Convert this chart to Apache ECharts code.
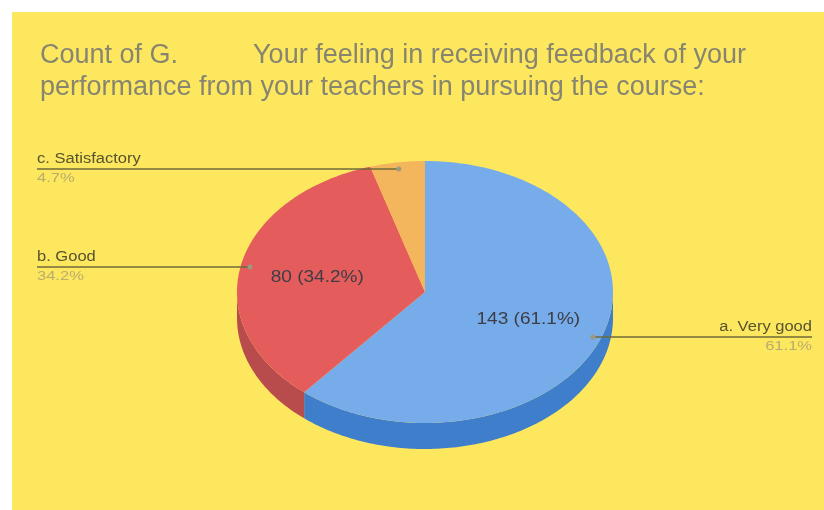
<!DOCTYPE html>
<html><head><meta charset="utf-8">
<script src="https://cdn.jsdelivr.net/npm/echarts@6/dist/echarts.min.js"></script>
<style>html,body{margin:0;padding:0;background:#fff}#c{width:824px;height:510px}</style>
</head><body><div id="c"></div>
<script>
const categories = ['a. Very good', 'b. Good', 'c. Satisfactory'];
const counts = [143, 80, 11];
const titleLines = ['Count of G.          Your feeling in receiving feedback of your', 'performance from your teachers in pursuing the course:'];

const topColors = ['#77acea', '#e45c5c', '#f4b65c'];
const sideColors = ['#3f7ecb', '#b84b4b', '#c98f3e'];
const labelSide = ['right', 'left', 'left'];
const FONT = '"Liberation Sans", Arial, sans-serif';

const total = counts.reduce((a, b) => a + b, 0);
const CX = 425, CY = 292, RX = 188, RY = 131, DEPTH = 26;

function pt(deg, f, dy) {
  const r = deg * Math.PI / 180;
  return [CX + RX * f * Math.sin(r), CY - RY * f * Math.cos(r) + (dy || 0)];
}
function arc(a0, a1, dy) {
  const pts = [];
  const n = Math.max(2, Math.ceil((a1 - a0) / 1));
  for (let i = 0; i <= n; i++) pts.push(pt(a0 + (a1 - a0) * i / n, 1, dy));
  return pts;
}

const chart = echarts.init(document.getElementById('c'), null, {renderer: 'canvas'});
chart.setOption({
  backgroundColor: '#ffffff',
  graphic: [
    {type: 'rect', shape: {x: 12, y: 12, width: 812, height: 498}, style: {fill: '#fde75f'}, z: -10},
    {type: 'text', left: 40, top: 40, style: {text: titleLines.join('\n'), font: '27px ' + FONT, fill: '#878570', lineHeight: 32}}
  ],
  series: [{
    type: 'custom',
    coordinateSystem: 'none',
    data: counts.map((v, i) => ({name: categories[i], value: v})),
    renderItem: function (params, api) {
      const i = params.dataIndex;
      const v = api.value(0);
      let start = 0;
      for (let k = 0; k < i; k++) start += counts[k];
      const a0 = start / total * 360;
      const a1 = (start + v) / total * 360;
      const children = [];
      const s0 = Math.max(a0, 90), s1 = Math.min(a1, 270);
      if (s1 > s0) {
        const top = arc(s0, s1, 0);
        const bot = arc(s0, s1, DEPTH).reverse();
        children.push({type: 'polygon', z2: 1, shape: {points: top.concat(bot)}, style: {fill: sideColors[i]}});
      }
      const face = [[CX, CY]].concat(arc(a0, a1, 0));
      children.push({type: 'polygon', z2: 5, shape: {points: face}, style: {fill: topColors[i]}});
      const mid = (a0 + a1) / 2;
      const pct = (v / total * 100).toFixed(1) + '%';
      if (v / total > 0.1) {
        const p = pt(mid, 0.585, 0);
        children.push({type: 'text', z2: 10, x: p[0], y: p[1] + 1, scaleX: 1.12, style: {text: v + ' (' + pct + ')', font: '17px ' + FONT, fill: '#3d3d45', align: 'center', verticalAlign: 'middle'}});
      }
      const d = pt(mid, 0.95, 0);
      const ly = Math.round(d[1]) + (labelSide[i] === 'right' ? 2 : 0);
      const lx = labelSide[i] === 'left' ? 37 : 812;
      children.push({type: 'line', z2: 9, shape: {x1: d[0], y1: ly, x2: lx, y2: ly}, style: {stroke: '#6f6a3a', lineWidth: 1.5}});
      children.push({type: 'circle', z2: 9, shape: {cx: d[0], cy: ly, r: 2.5}, style: {fill: '#9b9a80'}});
      const align = labelSide[i] === 'left' ? 'left' : 'right';
      children.push({type: 'text', z2: 10, x: lx, y: ly - 3, scaleX: 1.18, style: {text: categories[i], font: '14px ' + FONT, fill: '#57532e', align: align, verticalAlign: 'bottom'}});
      children.push({type: 'text', z2: 10, x: lx, y: ly + 3, scaleX: 1.27, style: {text: pct, font: '13px ' + FONT, fill: '#b8ad6c', align: align, verticalAlign: 'top'}});
      return {type: 'group', children: children};
    }
  }]
});
</script>
</body></html>
